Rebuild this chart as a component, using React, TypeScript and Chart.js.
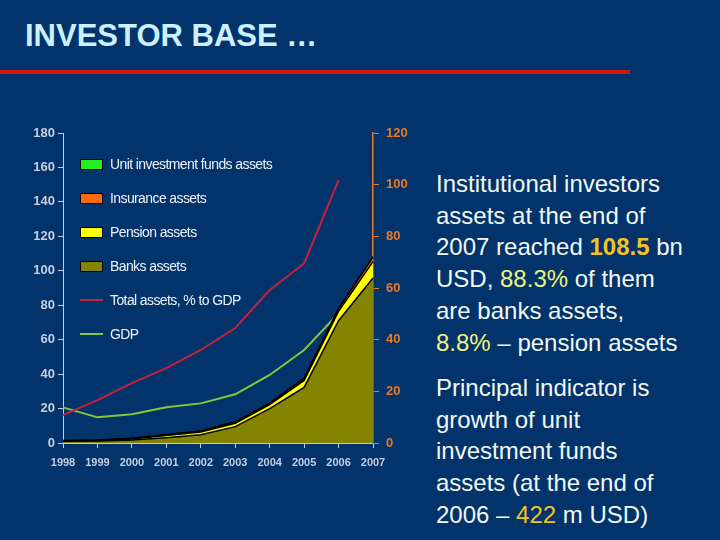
import React, { useEffect, useRef } from "react";
import { Chart, registerables } from "chart.js";

Chart.register(...registerables);

const years = ["1998", "1999", "2000", "2001", "2002", "2003", "2004", "2005", "2006", "2007"];
const banksAssets = [1.0, 1.1, 1.8, 3.1, 4.8, 9.5, 20.0, 32.3, 71.0, 95.8];
const pensionAssets = [0.2, 0.3, 0.5, 1.2, 1.6, 2.0, 2.3, 4.0, 5.5, 9.5];
const insuranceAssets = [0.2, 0.3, 0.4, 0.6, 0.6, 0.8, 0.9, 1.2, 1.5, 2.5];
const unitFundsAssets = [0, 0, 0, 0, 0.01, 0.02, 0.05, 0.15, 0.42, 0.7];
const totalPctGdp = [10.8, 16.6, 23.2, 29.0, 36.0, 44.5, 59.2, 69.5, 101.8, null];
const gdp = [20.7, 14.9, 16.7, 20.7, 23.0, 28.3, 39.5, 54.0, 75.3, 104];

const legendItems = [
  { label: "Unit investment funds assets", color: "#22ee22", kind: "box" },
  { label: "Insurance assets", color: "#ff6a10", kind: "box" },
  { label: "Pension assets", color: "#ffff00", kind: "box" },
  { label: "Banks assets", color: "#848400", kind: "box" },
  { label: "Total assets, % to GDP", color: "#c8203c", kind: "line" },
  { label: "GDP", color: "#86c83a", kind: "line" },
];

const BG = "#02336a";
const AXIS = "#c4cede";
const ORANGE = "#e67a2a";

export default function App() {
  const ref = useRef<HTMLCanvasElement | null>(null);

  useEffect(() => {
    document.body.style.margin = "0";
    document.body.style.background = BG;
    if (!ref.current) return;
    const chart = new Chart(ref.current, {
      type: "line",
      data: {
        labels: years,
        datasets: [
          {
            label: "Banks assets",
            data: banksAssets,
            yAxisID: "y",
            fill: "origin",
            backgroundColor: "#848400",
            borderColor: "#000000",
            borderWidth: 1.5,
            pointRadius: 0,
            order: 0,
          },
          {
            label: "Pension assets",
            data: pensionAssets,
            yAxisID: "y",
            fill: "-1",
            backgroundColor: "#ffff00",
            borderColor: "#000000",
            borderWidth: 1.5,
            pointRadius: 0,
            order: 0,
          },
          {
            label: "Insurance assets",
            data: insuranceAssets,
            yAxisID: "y",
            fill: "-1",
            backgroundColor: "#ff6a10",
            borderColor: "#000000",
            borderWidth: 1.5,
            pointRadius: 0,
            order: 0,
          },
          {
            label: "Unit investment funds assets",
            data: unitFundsAssets,
            yAxisID: "y",
            fill: "-1",
            backgroundColor: "#22ee22",
            borderColor: "#000000",
            borderWidth: 1,
            pointRadius: 0,
            order: 0,
          },
          {
            label: "Total assets, % to GDP",
            data: totalPctGdp,
            yAxisID: "y2",
            fill: false,
            borderColor: "#c8203c",
            borderWidth: 2,
            pointRadius: 0,
            tension: 0,
            order: 1,
          },
          {
            label: "GDP",
            data: gdp,
            yAxisID: "y3",
            fill: false,
            borderColor: "#86c83a",
            borderWidth: 2,
            pointRadius: 0,
            tension: 0,
            order: 1,
          },
        ],
      },
      options: {
        responsive: false,
        animation: false,
        layout: { padding: { top: 133, left: 0, right: 0, bottom: 0 } },
        plugins: { legend: { display: false }, tooltip: { enabled: false } },
        elements: { line: { tension: 0 } },
        scales: {
          x: {
            type: "category",
            offset: false,
            grid: { display: true, drawOnChartArea: false, drawTicks: true, tickLength: 5, color: AXIS },
            border: { display: true, color: AXIS, width: 1 },
            ticks: {
              color: AXIS,
              font: { family: "Liberation Sans", size: 11, weight: "bold" },
              padding: 8,
              maxRotation: 0,
              autoSkip: false,
            },
            afterFit: (s: any) => {
              s.height = 37;
            },
          },
          y: {
            position: "left",
            stacked: true,
            min: 0,
            max: 180,
            grid: { display: true, drawOnChartArea: false, drawTicks: true, tickLength: 5, color: AXIS },
            border: { display: true, color: AXIS, width: 1 },
            ticks: {
              stepSize: 20,
              color: AXIS,
              font: { family: "Liberation Sans", size: 13, weight: "bold" },
              padding: 3,
            },
            afterFit: (s: any) => {
              s.width = 63;
            },
          },
          y2: {
            position: "right",
            min: 0,
            max: 120,
            grid: { display: true, drawOnChartArea: false, drawTicks: true, tickLength: 6, color: ORANGE },
            border: { display: true, color: ORANGE, width: 1.5 },
            ticks: {
              stepSize: 20,
              color: ORANGE,
              font: { family: "Liberation Sans", size: 13, weight: "bold" },
              padding: 7,
            },
            afterFit: (s: any) => {
              s.width = 47;
            },
          },
          y3: {
            display: false,
            min: 0,
            max: 180,
          },
        },
      },
    });
    return () => chart.destroy();
  }, []);

  const textStyle: React.CSSProperties = {
    position: "absolute",
    left: 436,
    width: 284,
    fontFamily: "Liberation Sans, Arial, sans-serif",
    fontSize: 24,
    lineHeight: "31.7px",
    color: "#f2f8f2",
    margin: 0,
    whiteSpace: "nowrap",
  };
  const hl = { color: "#eef47c" };
  const gold = { color: "#f2c423" };

  return (
    <div
      style={{
        position: "fixed",
        left: 0,
        top: 0,
        width: 720,
        height: 540,
        background: BG,
        overflow: "hidden",
        fontFamily: "Liberation Sans, Arial, sans-serif",
      }}
    >
      <div
        style={{
          position: "absolute",
          left: 25,
          top: 18,
          fontSize: 31,
          fontWeight: "bold",
          color: "#ccf0ff",
          whiteSpace: "nowrap",
        }}
      >
        INVESTOR BASE …
      </div>
      <div style={{ position: "absolute", left: 0, top: 70, width: 630, height: 4, background: "#d8141c" }} />
      <canvas ref={ref} width={420} height={480} style={{ position: "absolute", left: 0, top: 0, width: 420, height: 480 }} />
      {legendItems.map((it, i) => (
        <div
          key={it.label}
          style={{
            position: "absolute",
            left: 80,
            top: 164 + i * 34 - 9,
            height: 18,
            display: "flex",
            alignItems: "center",
            whiteSpace: "nowrap",
          }}
        >
          {it.kind === "box" ? (
            <div style={{ width: 21, height: 9, background: it.color, border: "1px solid #000" }} />
          ) : (
            <div style={{ width: 23, height: 2, background: it.color }} />
          )}
          <span style={{ marginLeft: 7, fontSize: 14, letterSpacing: "-0.6px", color: "#eef2fa" }}>{it.label}</span>
        </div>
      ))}
      <p style={{ ...textStyle, top: 168 }}>
        Institutional investors
        <br />
        assets at the end of
        <br />
        2007 reached <b style={gold}>108.5</b> bn
        <br />
        USD, <span style={hl}>88.3%</span> of them
        <br />
        are banks assets,
        <br />
        <span style={hl}>8.8%</span> – pension assets
      </p>
      <p style={{ ...textStyle, top: 372 }}>
        Principal indicator is
        <br />
        growth of unit
        <br />
        investment funds
        <br />
        assets (at the end of
        <br />
        2006 – <span style={gold}>422</span> m USD)
      </p>
    </div>
  );
}
